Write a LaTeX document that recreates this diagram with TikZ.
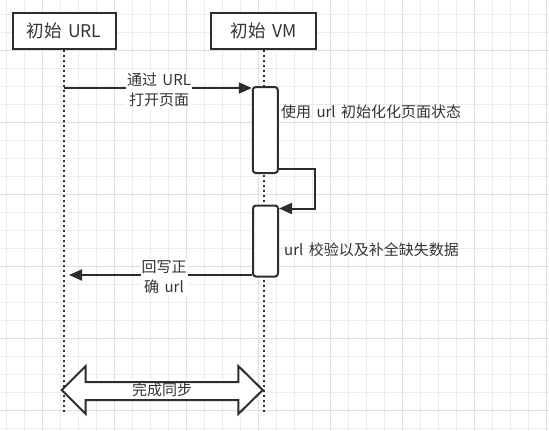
\documentclass[tikz,border=0pt]{standalone}
\usepackage{fontspec}
\usepackage{tikz}
\usetikzlibrary{arrows.meta, positioning}
\newfontfamily\cjk[WordSpace=1.6]{Noto Sans CJK SC}
\definecolor{linea}{RGB}{45,45,45}
\definecolor{texto}{RGB}{51,51,51}
\definecolor{rejilla}{RGB}{236,236,236}
\definecolor{rejillafuerte}{RGB}{222,222,222}
\tikzstyle{actor} = [draw=linea, line width=2pt, fill=white, minimum width=103pt, minimum height=36pt, inner sep=0pt, font=\cjk\fontsize{17.5}{20}\selectfont, text=texto]
\tikzstyle{activacion} = [draw=linea, line width=2pt, fill=white, rounded corners=3pt, minimum width=25pt, inner sep=0pt]
\tikzstyle{vida} = [draw=linea, line width=2pt, dash pattern=on 2pt off 3pt]
\tikzstyle{mensaje} = [draw=linea, line width=2pt, -{Triangle[length=13pt, width=11pt]}]
\tikzstyle{etiqueta} = [font=\cjk\fontsize{15}{20}\selectfont, text=texto, align=center, inner sep=1pt]

\begin{document}
\begin{tikzpicture}[x=1pt, y=-1pt]
	\useasboundingbox (0,0) rectangle (549,431);
	% rejilla
	\foreach \x in {0,...,30} \draw[rejilla, line width=0.8pt] (6.3+18*\x,0) -- (6.3+18*\x,431);
	\foreach \y in {0,...,23} \draw[rejilla, line width=0.8pt] (0,14.5+18*\y) -- (549,14.5+18*\y);
	\foreach \x in {0,...,7} \draw[rejillafuerte, line width=0.8pt] (42.3+72*\x,0) -- (42.3+72*\x,431);
	\foreach \y in {0,...,5} \draw[rejillafuerte, line width=0.8pt] (0,50.5+72*\y) -- (549,50.5+72*\y);
	% actores y lineas de vida
	\node[actor] (url) at (64,31) {初始 URL};
	\node[actor, minimum width=105pt] (vm) at (263.7,31) {初始 VM};
	\draw[vida] (url.south) -- (url.south |- 0,415);
	\draw[vida] (vm.south) -- (vm.south |- 0,415);
	\node[activacion, minimum height=86pt] (act1) at (265.3,130) {};
	\node[activacion, minimum height=71pt] (act2) at (265.5,241) {};
	% mensajes
	\coordinate (salida) at (url.south |- 0,88);
	\draw[mensaje] (salida) -- (act1.west |- salida);
	\node[etiqueta, fill=white] (abrir) at (159,90) {通过 URL\\打开页面};
	\draw[mensaje] ([yshift=5pt]act1.south east) -- ++(36,0) |- ([yshift=-4pt]act2.north east);
	\coordinate (regreso) at ([yshift=2.5pt]act2.south west);
	\path (regreso) ++(-183,0) coordinate (destino);
	\draw[mensaje] (regreso) -- (destino);
	\node[etiqueta, fill=white] (reescribir) at (164,277) {回写正\\确 url};
	\node[etiqueta, anchor=west] (estado) at (280,112) {使用 url 初始化化页面状态};
	\node[etiqueta, anchor=west] (validar) at (283,250) {url 校验以及补全缺失数据};
	% sincronizacion
	\draw[linea, line width=2pt, fill=white] (61.7,390) -- (85.7,366) -- (85.7,382) -- (238.3,382) -- (238.3,366) -- (262.7,390) -- (238.3,414) -- (238.3,400) -- (85.7,400) -- (85.7,414) -- cycle;
	\node[etiqueta] (sincro) at (162,390) {完成同步};
\end{tikzpicture}
\end{document}
